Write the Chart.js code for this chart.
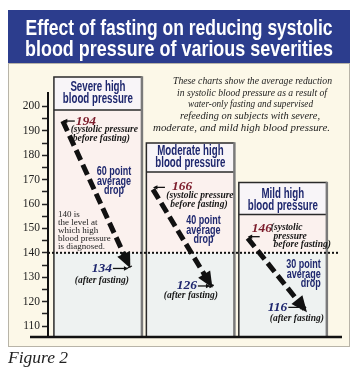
<!DOCTYPE html>
<html><head><meta charset="utf-8">
<script src="https://cdn.jsdelivr.net/npm/chart.js@4.4.1/dist/chart.umd.min.js"></script>
<style>html,body{margin:0;padding:0;background:#fff;overflow:hidden}canvas{display:block}</style>
</head><body>
<canvas id="c" width="359" height="368"></canvas>
<script>
// ---------- DATA ----------
const categories = ['Severe high blood pressure', 'Moderate high blood pressure', 'Mild high blood pressure'];
const headerLines = [['Severe high', 'blood pressure'], ['Moderate high', 'blood pressure'], ['Mild high', 'blood pressure']];
const beforeFasting = [194, 166, 146];
const afterFasting = [134, 126, 116];
const diagnosisLevel = 140;
const yTickValues = [110, 115, 120, 125, 130, 135, 140, 145, 150, 155, 160, 165, 170, 175, 180, 185, 190, 195, 200];
const titleLines = ['Effect of fasting on reducing systolic', 'blood pressure of various severities'];
const descriptionLines = ['These charts show the average reduction', 'in systolic blood pressure as a result of', 'water-only fasting and supervised', 'refeeding on subjects with severe,', 'moderate, and mild high blood pressure.'];
const diagnosisNote = ['140 is', 'the level at', 'which high', 'blood pressure', 'is diagnosed.'];
const beforeNotes = [['(systolic pressure', 'before fasting)'], ['(systolic pressure', 'before fasting)'], ['(systolic', 'pressure', 'before fasting)']];
const afterNote = '(after fasting)';
const dropWords = ['point', 'average', 'drop'];
const figureLabel = 'Figure 2';

// ---------- LAYOUT / STYLE ----------
const L = {
  yMin: 105.5, yMax: 205.5, xMin: -0.54, xMax: 2.64,
  panelHalf: 0.476,
  panelTop: [212.1, 185.0, 168.8],
  headerH: [33, 29, 32],
  headerDy: [[10, 22], [8, 20], [11, 23]],
  startX: [-0.38, -0.405, -0.38],
  endX: [0.346, 0.233, 0.254],
  startLabel: [[13, 0], [19, -3], [4, -10]],
  pointerDy: [0, -2, -1.5],
  noteXY: [[[41.5, 8.5], [38.5, 17.5]], [[47, 6], [46, 15]], [[39, -10.5], [42.5, -1.5], [54.5, 6.5]]],
  afterNumRight: [-18, -15, -19],
  afterNumDy: [1, -1, -4],
  afterNoteXY: [[-28, 12], [-21, 10], [-9.5, 11]],
  dropXY: [[16, 172], [13, 221], [38, 265]],
  dropAlign: ['center', 'center', 'right'],
  descX: [252.5, 252, 250.5, 250, 241.5],
  descW: [159, 150, 125, 140, 177],
  navy: '#1e276e', red: '#7c1c2b', ink: '#161616',
  band: '#2c3d8d', cream: '#fcf8e8', pink: '#fbf1ee', pale: '#eef2f1', head: '#f8f5f8'
};

function cond(ctx, text, x, y, ratio) {
  const w = ctx.measureText(text).width;
  ctx.fillText(text, x, y, w * ratio);
}
// scale text horizontally to an exact width, centred at x
function fitCenter(ctx, text, x, y, target) {
  const w = ctx.measureText(text).width;
  ctx.save();
  ctx.translate(x, y);
  ctx.scale(target / w, 1);
  ctx.textAlign = 'center';
  ctx.fillText(text, 0, 0);
  ctx.restore();
}

const decor = {
  id: 'decor',
  beforeDraw(chart) {
    const c = chart.ctx;
    c.save();
    c.fillStyle = '#fff'; c.fillRect(0, 0, 359, 368);
    // cream panel
    c.fillStyle = L.cream; c.fillRect(8, 63, 342, 284);
    c.strokeStyle = '#b8b4a8'; c.lineWidth = 1;
    c.strokeRect(8.5, 63.5, 341, 283);
    // title band
    c.fillStyle = L.band; c.fillRect(8, 10, 342, 53);
    c.fillStyle = '#fff'; c.textBaseline = 'middle';
    c.font = "bold 22px 'Liberation Sans', Arial, sans-serif";
    fitCenter(c, titleLines[0], 179, 28.5, 307);
    fitCenter(c, titleLines[1], 179, 49.5, 308);
    // description
    c.fillStyle = '#1c1c1c';
    c.font = "italic 10.5px 'Liberation Serif', serif";
    descriptionLines.forEach((t, k) => fitCenter(c, t, L.descX[k], 81 + k * 11.8, L.descW[k]));
    // figure label
    c.textAlign = 'left';
    c.font = "italic 17.5px 'Liberation Serif', serif";
    c.fillStyle = '#222';
    c.fillText(figureLabel, 8, 358);
    c.restore();
  },
  beforeDatasetsDraw(chart) {
    const c = chart.ctx, xs = chart.scales.x, ys = chart.scales.y;
    const yBase = ys.getPixelForValue(L.yMin);
    const yDiag = ys.getPixelForValue(diagnosisLevel);
    c.save();
    categories.forEach((cat, i) => {
      const x0 = xs.getPixelForValue(i - L.panelHalf), x1 = xs.getPixelForValue(i + L.panelHalf);
      const top = ys.getPixelForValue(L.panelTop[i]);
      const hb = top + L.headerH[i];
      c.fillStyle = L.head; c.fillRect(x0, top, x1 - x0, hb - top);
      c.fillStyle = L.pink; c.fillRect(x0, hb, x1 - x0, yDiag - hb);
      c.fillStyle = L.pale; c.fillRect(x0, yDiag, x1 - x0, yBase - yDiag);
      // borders
      c.strokeStyle = '#2a2a2a'; c.lineWidth = 1.5;
      c.beginPath(); c.moveTo(x0, yBase); c.lineTo(x0, top); c.lineTo(x1, top); c.stroke();
      c.beginPath(); c.moveTo(x0, hb); c.lineTo(x1, hb); c.stroke();
      c.strokeStyle = '#7a7a7a'; c.lineWidth = 2.5;
      c.beginPath(); c.moveTo(x1, top - 0.75); c.lineTo(x1, yBase); c.stroke();
      // header text
      const cx = xs.getPixelForValue(i);
      c.fillStyle = L.navy; c.textAlign = 'center'; c.textBaseline = 'middle';
      c.font = "bold 14.5px 'Liberation Sans', Arial, sans-serif";
      headerLines[i].forEach((t, k) => cond(c, t, cx, top + L.headerDy[i][k], 0.67));
    });
    // diagnosis note
    c.fillStyle = '#222'; c.textAlign = 'left'; c.textBaseline = 'middle';
    c.font = "9px 'Liberation Serif', serif";
    diagnosisNote.forEach((t, k) => c.fillText(t, 58, 215 + k * 8));
    // dotted 140 line
    c.strokeStyle = '#111'; c.lineWidth = 2; c.setLineDash([2, 2]);
    c.beginPath(); c.moveTo(chart.chartArea.left, yDiag); c.lineTo(338, yDiag); c.stroke();
    c.setLineDash([]);
    // baseline
    c.lineWidth = 2.5;
    c.beginPath(); c.moveTo(30, yBase); c.lineTo(chart.chartArea.right, yBase); c.stroke();
    c.restore();
  },
  afterDatasetsDraw(chart) {
    const c = chart.ctx, xs = chart.scales.x;
    c.save();
    categories.forEach((cat, i) => {
      const pts = chart.getDatasetMeta(i).data;
      const s = pts[0], e = pts[1];
      // arrow head
      const ang = Math.atan2(e.y - s.y, e.x - s.x);
      c.fillStyle = '#111';
      c.save(); c.translate(e.x, e.y); c.rotate(ang);
      c.beginPath(); c.moveTo(1, 0); c.lineTo(-15, -7); c.lineTo(-15, 7); c.closePath(); c.fill();
      c.restore();
      // start pointer
      const py = s.y + L.pointerDy[i];
      c.strokeStyle = '#111'; c.lineWidth = 1.3;
      c.beginPath(); c.moveTo(s.x + 2, py); c.lineTo(s.x + 12, py); c.stroke();
      c.beginPath(); c.moveTo(s.x, py); c.lineTo(s.x + 4.5, py - 2.2); c.lineTo(s.x + 4.5, py + 2.2); c.closePath(); c.fill();
      // before value
      c.textBaseline = 'middle'; c.textAlign = 'left';
      c.fillStyle = L.red; c.font = "bold italic 13.5px 'Liberation Serif', serif";
      c.fillText(String(beforeFasting[i]), s.x + L.startLabel[i][0], s.y + L.startLabel[i][1]);
      c.fillStyle = L.ink; c.textAlign = 'center';
      c.font = "bold italic 9.5px 'Liberation Serif', serif";
      beforeNotes[i].forEach((t, k) => c.fillText(t, s.x + L.noteXY[i][k][0], s.y + L.noteXY[i][k][1]));
      // after value
      const nr = e.x + L.afterNumRight[i], ny = e.y + L.afterNumDy[i];
      c.fillStyle = L.navy; c.textAlign = 'right';
      c.font = "bold italic 13.5px 'Liberation Serif', serif";
      c.fillText(String(afterFasting[i]), nr, ny);
      c.strokeStyle = '#111'; c.lineWidth = 1.3; c.fillStyle = '#111';
      c.beginPath(); c.moveTo(nr + 1, ny); c.lineTo(e.x - 5, ny); c.stroke();
      c.beginPath(); c.moveTo(e.x - 1.5, ny); c.lineTo(e.x - 6, ny - 2.2); c.lineTo(e.x - 6, ny + 2.2); c.closePath(); c.fill();
      c.fillStyle = L.ink; c.textAlign = 'center';
      c.font = "bold italic 9.5px 'Liberation Serif', serif";
      c.fillText(afterNote, e.x + L.afterNoteXY[i][0], ny + L.afterNoteXY[i][1]);
      // drop text
      const cx = xs.getPixelForValue(i);
      const drop = beforeFasting[i] - afterFasting[i];
      const words = [drop + ' ' + dropWords[0], dropWords[1], dropWords[2]];
      c.fillStyle = L.navy; c.textAlign = L.dropAlign[i];
      c.font = "bold 12.5px 'Liberation Sans', Arial, sans-serif";
      words.forEach((t, k) => cond(c, t, cx + L.dropXY[i][0], L.dropXY[i][1] + k * 9.3, 0.72));
    });
    c.restore();
  }
};

const datasets = categories.map((cat, i) => ({
  label: cat,
  data: [{ x: i + L.startX[i], y: beforeFasting[i] }, { x: i + L.endX[i], y: afterFasting[i] }],
  borderColor: '#111', borderWidth: 5, borderDash: [11, 5], borderCapStyle: 'butt',
  pointRadius: 0, tension: 0, clip: false, fill: false
}));

new Chart(document.getElementById('c'), {
  type: 'line',
  data: { datasets },
  plugins: [decor],
  options: {
    responsive: false, animation: false, devicePixelRatio: 1,
    layout: { padding: { left: 0, top: 93, right: 17, bottom: 31 } },
    plugins: { legend: { display: false }, tooltip: { enabled: false }, title: { display: false } },
    scales: {
      x: { type: 'linear', min: L.xMin, max: L.xMax, display: false },
      y: {
        type: 'linear', min: L.yMin, max: L.yMax,
        afterBuildTicks: s => { s.ticks = yTickValues.map(v => ({ value: v })); },
        afterFit: s => { s.width = 48; },
        ticks: {
          autoSkip: false, padding: 2, color: '#222',
          font: { family: "'Liberation Serif', serif", size: 11.5 },
          callback: v => (v % 10 === 0 ? String(v) : '')
        },
        grid: { drawOnChartArea: false, drawTicks: true, tickLength: 6, tickColor: '#222', tickWidth: 1.5 },
        border: { display: true, color: '#111', width: 2 }
      }
    }
  }
});
</script>
</body></html>
